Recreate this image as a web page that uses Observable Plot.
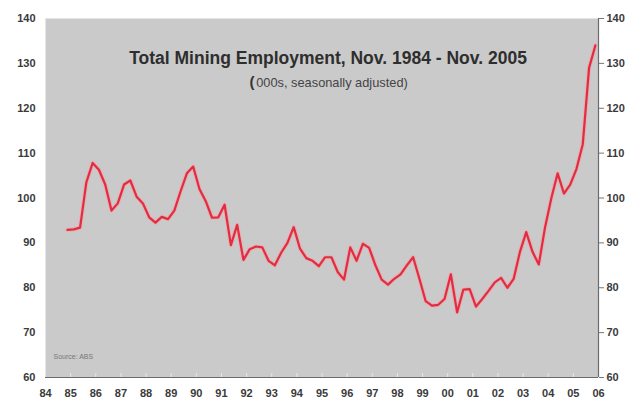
<!DOCTYPE html>
<html>
<head>
<meta charset="utf-8">
<script src="https://cdn.jsdelivr.net/npm/d3@7"></script>
<script src="https://cdn.jsdelivr.net/npm/@observablehq/plot@0.6"></script>
<style>
  html, body { margin: 0; padding: 0; background: #fff; }
  #chart svg { display: block; }
</style>
</head>
<body>
<div id="chart"></div>
<script>
// Quarterly periods (year-month), Nov 1984 – Nov 2005
const periods = [
  "1984-11",
  "1985-02","1985-05","1985-08","1985-11",
  "1986-02","1986-05","1986-08","1986-11",
  "1987-02","1987-05","1987-08","1987-11",
  "1988-02","1988-05","1988-08","1988-11",
  "1989-02","1989-05","1989-08","1989-11",
  "1990-02","1990-05","1990-08","1990-11",
  "1991-02","1991-05","1991-08","1991-11",
  "1992-02","1992-05","1992-08","1992-11",
  "1993-02","1993-05","1993-08","1993-11",
  "1994-02","1994-05","1994-08","1994-11",
  "1995-02","1995-05","1995-08","1995-11",
  "1996-02","1996-05","1996-08","1996-11",
  "1997-02","1997-05","1997-08","1997-11",
  "1998-02","1998-05","1998-08","1998-11",
  "1999-02","1999-05","1999-08","1999-11",
  "2000-02","2000-05","2000-08","2000-11",
  "2001-02","2001-05","2001-08","2001-11",
  "2002-02","2002-05","2002-08","2002-11",
  "2003-02","2003-05","2003-08","2003-11",
  "2004-02","2004-05","2004-08","2004-11",
  "2005-02","2005-05","2005-08","2005-11"
];
// Total mining employment ('000s, seasonally adjusted)
const employment = [
  92.9,
  93.0, 93.4, 103.5, 107.8,
  106.3, 103.0, 97.2, 98.8,
  103.0, 103.9, 100.3, 98.8,
  95.7, 94.5, 95.8, 95.3,
  97.2, 101.5, 105.5, 107.0,
  102.0, 99.3, 95.6, 95.7,
  98.5, 89.5, 94.0, 86.2,
  88.6, 89.2, 89.0, 86.0,
  85.0, 87.8, 90.0, 93.5,
  88.7, 86.6, 86.0, 84.8,
  86.8, 86.8, 83.5, 81.8,
  89.0, 86.0, 89.8, 88.9,
  85.0, 81.8, 80.7, 82.0,
  83.0, 85.0, 86.8, 82.0,
  77.0, 76.0, 76.2, 77.5,
  83.0, 74.5, 79.6, 79.7,
  75.8, 77.5, 79.3, 81.2,
  82.2, 80.0, 82.0, 88.0,
  92.4, 88.0, 85.2, 93.5,
  100.0, 105.5, 101.0, 103.0,
  106.5, 112.0, 129.0, 134.0
];
const yearTicks = [1984,1985,1986,1987,1988,1989,1990,1991,1992,1993,1994,1995,1996,1997,1998,1999,2000,2001,2002,2003,2004,2005,2006];
const yearLabels = ["84","85","86","87","88","89","90","91","92","93","94","95","96","97","98","99","00","01","02","03","04","05","06"];
const yTicks = [60,70,80,90,100,110,120,130,140];

const titleText = "Total Mining Employment, Nov. 1984 - Nov. 2005";
const subtitleText = "000s, seasonally adjusted)";
const sourceText = "Source: ABS";

const data = periods.map((p, i) => {
  const [y, m] = p.split("-").map(Number);
  return { t: y + (m - 0.5) / 12, v: employment[i] };
});
const labelOf = new Map(yearTicks.map((y, i) => [y, yearLabels[i]]));

const font = "Liberation Sans, Arial, Helvetica, sans-serif";

const chart = Plot.plot({
  width: 639,
  height: 403,
  marginLeft: 45,
  marginRight: 41,
  marginTop: 18,
  marginBottom: 26,
  style: { fontFamily: font, background: "#fff", color: "#333", overflow: "visible" },
  x: { domain: [1984, 2006] },
  y: { domain: [60, 140] },
  marks: [
    Plot.frame({ fill: "#cacaca", stroke: null }),
    Plot.ruleX(yearTicks, { x: d => d, y1: 60, y2: 60.9, stroke: "#e8e8e8", strokeWidth: 1 }),
    Plot.ruleY([60], { stroke: "#6a6a6a", strokeWidth: 1.2 }),
    Plot.ruleX([2006], { stroke: "#6a6a6a", strokeWidth: 1.2 }),
    Plot.axisX({
      ticks: yearTicks, tickFormat: d => labelOf.get(d), tickSize: 0, tickPadding: 12,
      fontSize: 11, fontWeight: "bold", fill: "#3a3a3a", label: null
    }),
    Plot.axisY({
      anchor: "left", ticks: yTicks, tickSize: 0, tickPadding: 10,
      fontSize: 11, fontWeight: "bold", fill: "#3a3a3a", label: null
    }),
    Plot.axisY({
      anchor: "right", ticks: yTicks, tickSize: 5, tickPadding: 3, stroke: "#777",
      fontSize: 11, fontWeight: "bold", fill: "#3a3a3a", label: null
    }),
    Plot.line(data, { x: "t", y: "v", stroke: "#f0a0a8", strokeWidth: 4.2, strokeOpacity: 0.6, curve: "linear" }),
    Plot.line(data, { x: "t", y: "v", stroke: "#e42c40", strokeWidth: 2.2, curve: "linear" }),
    Plot.text([titleText], {
      frameAnchor: "top", lineAnchor: "middle", dx: 6, dy: 40, text: d => d,
      fontSize: 17.5, fontWeight: "bold", fill: "#2e2e2e"
    }),
    Plot.text(["("], {
      frameAnchor: "top", lineAnchor: "middle", dx: -70, dy: 64, text: d => d,
      fontSize: 15, fontWeight: "bold", fill: "#333"
    }),
    Plot.text([subtitleText], {
      frameAnchor: "top", lineAnchor: "middle", dx: 10, dy: 64, text: d => d,
      fontSize: 12.8, fill: "#444"
    }),
    Plot.text([sourceText], {
      frameAnchor: "bottom-left", dx: 8, dy: -19, text: d => d,
      fontSize: 7, fill: "#777", textAnchor: "start"
    })
  ]
});
document.getElementById("chart").appendChild(chart);
</script>
</body>
</html>
